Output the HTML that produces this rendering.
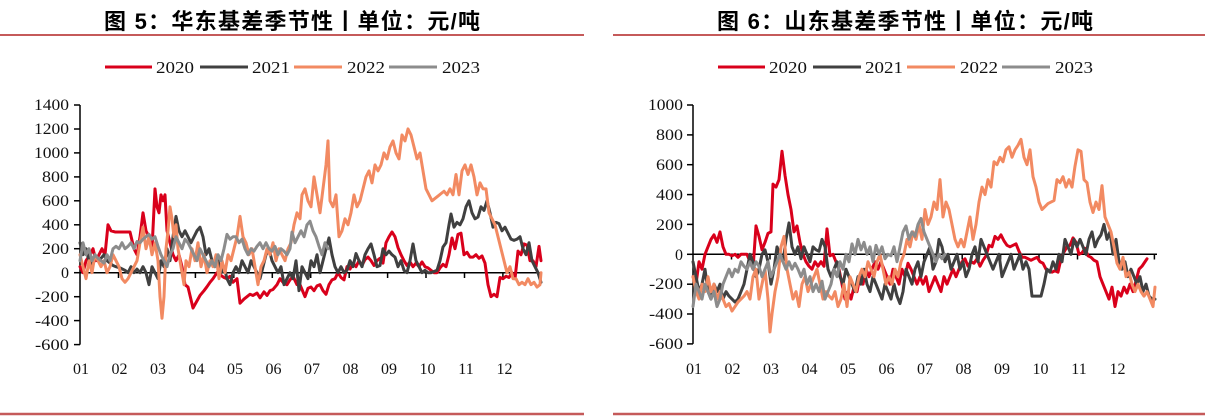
<!DOCTYPE html>
<html><head><meta charset="utf-8">
<style>
html,body{margin:0;padding:0;background:#fff;}
svg{display:block;}
.t{font-family:"Liberation Sans","Noto Sans CJK SC",sans-serif;font-weight:bold;font-size:22px;fill:#000;}
.lab{font-family:"Liberation Serif",serif;font-size:16px;fill:#111;}
.leg{font-family:"Liberation Serif",serif;font-size:17px;fill:#111;}
.s{fill:none;stroke-width:3;stroke-linejoin:round;stroke-linecap:round;vector-effect:non-scaling-stroke;}
.r{stroke:#d9001b}.k{stroke:#404040}.o{stroke:#f28a62}.g{stroke:#8c8c8c}
</style></head>
<body>
<svg width="1205" height="417" viewBox="0 0 1205 417" xmlns="http://www.w3.org/2000/svg">
<line x1="0" y1="35" x2="584" y2="35" stroke="#c55a5a" stroke-width="2"/>
<line x1="613" y1="35" x2="1205" y2="35" stroke="#c55a5a" stroke-width="2"/>
<line x1="0" y1="414" x2="584" y2="414" stroke="#c55a5a" stroke-width="2.5"/>
<line x1="613" y1="414" x2="1205" y2="414" stroke="#c55a5a" stroke-width="2.5"/>

<text class="t" x="104" y="29" textLength="376" lengthAdjust="spacing">图 5：华东基差季节性丨单位：元/吨</text>
<text class="t" x="717" y="29" textLength="376" lengthAdjust="spacing">图 6：山东基差季节性丨单位：元/吨</text>

<g>
<line x1="105" y1="67" x2="152" y2="67" stroke="#d9001b" stroke-width="3"/>
<text class="leg" x="156" y="73" textLength="38" lengthAdjust="spacingAndGlyphs">2020</text>
<line x1="200" y1="67" x2="248" y2="67" stroke="#404040" stroke-width="3"/>
<text class="leg" x="252" y="73" textLength="38" lengthAdjust="spacingAndGlyphs">2021</text>
<line x1="294" y1="67" x2="342" y2="67" stroke="#f28a62" stroke-width="3"/>
<text class="leg" x="347" y="73" textLength="38" lengthAdjust="spacingAndGlyphs">2022</text>
<line x1="389" y1="67" x2="437" y2="67" stroke="#8c8c8c" stroke-width="3"/>
<text class="leg" x="442" y="73" textLength="38" lengthAdjust="spacingAndGlyphs">2023</text>
</g>
<g transform="translate(613,0)">
<line x1="105" y1="67" x2="152" y2="67" stroke="#d9001b" stroke-width="3"/>
<text class="leg" x="156" y="73" textLength="38" lengthAdjust="spacingAndGlyphs">2020</text>
<line x1="200" y1="67" x2="248" y2="67" stroke="#404040" stroke-width="3"/>
<text class="leg" x="252" y="73" textLength="38" lengthAdjust="spacingAndGlyphs">2021</text>
<line x1="294" y1="67" x2="342" y2="67" stroke="#f28a62" stroke-width="3"/>
<text class="leg" x="347" y="73" textLength="38" lengthAdjust="spacingAndGlyphs">2022</text>
<line x1="389" y1="67" x2="437" y2="67" stroke="#8c8c8c" stroke-width="3"/>
<text class="leg" x="442" y="73" textLength="38" lengthAdjust="spacingAndGlyphs">2023</text>
</g>

<g stroke="#000" stroke-width="1.5">
<line x1="80" y1="105" x2="80" y2="344.6"/>
<line x1="80" y1="272.7" x2="541" y2="272.7"/>
<line x1="74" y1="105" x2="80" y2="105"/>
<line x1="74" y1="129" x2="80" y2="129"/>
<line x1="74" y1="152.9" x2="80" y2="152.9"/>
<line x1="74" y1="176.9" x2="80" y2="176.9"/>
<line x1="74" y1="200.8" x2="80" y2="200.8"/>
<line x1="74" y1="224.8" x2="80" y2="224.8"/>
<line x1="74" y1="248.7" x2="80" y2="248.7"/>
<line x1="74" y1="272.7" x2="80" y2="272.7"/>
<line x1="74" y1="296.7" x2="80" y2="296.7"/>
<line x1="74" y1="320.6" x2="80" y2="320.6"/>
<line x1="74" y1="344.6" x2="80" y2="344.6"/>
<line x1="118.5" y1="272.7" x2="118.5" y2="278"/>
<line x1="157" y1="272.7" x2="157" y2="278"/>
<line x1="195.4" y1="272.7" x2="195.4" y2="278"/>
<line x1="233.8" y1="272.7" x2="233.8" y2="278"/>
<line x1="272.3" y1="272.7" x2="272.3" y2="278"/>
<line x1="310.7" y1="272.7" x2="310.7" y2="278"/>
<line x1="349.2" y1="272.7" x2="349.2" y2="278"/>
<line x1="387.6" y1="272.7" x2="387.6" y2="278"/>
<line x1="426" y1="272.7" x2="426" y2="278"/>
<line x1="464.5" y1="272.7" x2="464.5" y2="278"/>
<line x1="502.9" y1="272.7" x2="502.9" y2="278"/>
<line x1="541" y1="272.7" x2="541" y2="278"/>
</g>
<g class="lab" text-anchor="end">
<text x="69" y="110" textLength="35" lengthAdjust="spacingAndGlyphs">1400</text>
<text x="69" y="134" textLength="35" lengthAdjust="spacingAndGlyphs">1200</text>
<text x="69" y="158" textLength="35" lengthAdjust="spacingAndGlyphs">1000</text>
<text x="69" y="182" textLength="27" lengthAdjust="spacingAndGlyphs">800</text>
<text x="69" y="206" textLength="27" lengthAdjust="spacingAndGlyphs">600</text>
<text x="69" y="230" textLength="27" lengthAdjust="spacingAndGlyphs">400</text>
<text x="69" y="254" textLength="27" lengthAdjust="spacingAndGlyphs">200</text>
<text x="69" y="278">0</text>
<text x="69" y="302" textLength="34" lengthAdjust="spacingAndGlyphs">-200</text>
<text x="69" y="326" textLength="34" lengthAdjust="spacingAndGlyphs">-400</text>
<text x="69" y="350" textLength="34" lengthAdjust="spacingAndGlyphs">-600</text>
</g>
<g class="lab" text-anchor="middle">
<text x="81" y="374">01</text><text x="119.5" y="374">02</text><text x="158" y="374">03</text>
<text x="196.5" y="374">04</text><text x="235" y="374">05</text><text x="273.5" y="374">06</text>
<text x="312" y="374">07</text><text x="350.5" y="374">08</text><text x="389" y="374">09</text>
<text x="427.5" y="374">10</text><text x="466" y="374">11</text><text x="504.5" y="374">12</text>
</g>

<g transform="translate(0,272.7) scale(1,-0.11979)">
<polyline class="s r" points="80,50 83,0 86,100 90,150 93,200 96,100 99,150 102,200 105,150 108,400 111,350 115,340 120,340 125,340 130,340 134,200 137,150 140,300 143,500 146,350 149,300 152,200 155,700 157,550 159,500 161,650 163,600 165,650 167,350 170,250 173,150 176,100 179,150 182,50 185,-100 188,-120 193,-295 196,-250 200,-190 204,-150 207,-117 210,-80 213,-50 217,0 220,-17 224,-40 227,-50 230,-30 233,-80 237,-50 240,-255 244,-220 247,-200 250,-180 253,-190 257,-170 260,-210 264,-160 267,-190 270,-150 273,-140 277,-100 280,-50 284,-90 287,-100 290,-60 293,-30 297,-100 300,-100 303,-160 305,-200 308,-130 311,-120 314,-150 317,-110 320,-100 323,-150 326,-180 329,-100 332,-60 335,-50 338,0 341,-40 344,-60 347,50 350,30 353,80 356,50 359,100 362,60 365,110 368,130 371,100 374,60 377,100 380,120 383,80 386,250 389,300 392,340 395,300 398,210 401,150 404,100 407,60 410,90 413,50 416,80 419,50 422,90 425,50 428,40 431,20 434,0 437,0 440,40 443,70 446,50 449,150 452,290 455,200 458,320 461,330 464,150 467,170 470,130 473,130 476,150 479,120 482,140 485,80 488,-100 491,-200 494,-180 497,-200 500,-40 503,-50 506,-30 509,-40 512,0 515,-50 518,180 521,150 524,240 527,230 530,100 533,100 536,50 539,220 541,100"/>
<polyline class="s k" points="80,250 83,150 86,200 89,100 92,50 95,150 98,100 101,120 104,150 107,100 110,80 113,60 116,50 120,40 125,20 128,0 131,50 134,0 137,30 140,0 143,50 146,0 149,-100 152,50 155,0 158,-50 161,100 164,50 167,200 170,100 173,300 176,470 179,350 182,300 185,350 188,300 191,250 194,300 197,350 200,380 203,300 206,150 209,200 212,100 215,50 218,100 221,0 224,50 227,-50 230,-100 233,0 236,50 239,0 242,100 245,50 248,0 251,100 254,50 257,0 260,-50 263,50 266,150 269,200 272,100 275,50 278,0 281,50 284,-100 287,-50 290,0 293,-50 296,100 299,-150 302,50 305,0 308,-50 311,100 314,50 317,150 320,0 323,100 326,200 329,290 332,150 335,50 338,0 341,50 344,0 347,20 350,100 353,50 356,160 359,100 362,50 365,150 368,200 371,240 374,150 377,50 380,60 383,200 386,150 389,180 392,150 395,130 398,50 401,100 404,20 407,0 410,100 413,240 416,100 419,50 422,0 425,20 428,0 431,0 434,10 437,20 440,100 443,215 446,250 449,400 451,490 454,380 457,420 460,400 463,450 466,550 469,600 472,500 475,450 478,465 481,550 484,520 487,600 490,500 493,380 496,420 499,410 502,350 505,380 508,330 511,280 514,270 517,280 520,300 523,200 526,150 529,250 532,100 535,50 538,0 541,-80"/>
<polyline class="s o" points="80,150 83,50 86,-50 89,100 92,0 95,150 98,100 101,50 104,100 107,0 110,50 113,150 116,100 119,50 122,-50 125,-80 128,-50 131,0 134,50 137,100 140,250 143,380 146,200 149,300 152,150 155,250 158,100 160,-200 162,-380 164,-200 166,200 168,350 170,550 172,450 174,300 176,400 178,200 180,100 182,0 184,-100 186,100 189,50 192,200 195,100 198,250 201,50 204,150 207,0 210,100 213,50 216,150 219,-50 222,100 225,0 228,150 231,100 234,200 237,300 240,470 243,300 246,250 249,150 252,200 255,50 258,-100 261,50 264,100 267,200 270,150 273,250 276,100 279,200 282,150 285,100 288,200 291,250 294,400 297,500 300,450 302,650 305,700 308,600 311,550 314,800 317,650 320,500 323,700 326,900 328,1100 330,600 333,550 336,650 339,300 342,350 345,450 348,400 351,500 354,650 357,550 360,600 363,700 366,800 369,850 372,750 375,900 378,850 381,900 384,1000 387,950 390,1050 393,1100 396,1000 399,950 402,1150 405,1100 408,1200 411,1150 414,1050 417,950 420,1000 423,850 426,700 429,650 432,600 435,620 438,640 441,660 444,680 447,650 450,700 453,650 456,820 459,650 462,850 465,900 468,820 471,900 474,800 477,650 480,750 483,700 486,700 489,500 492,450 495,400 498,300 501,200 504,100 507,0 510,50 513,-50 516,-50 519,-100 522,-80 525,-100 528,-50 531,-100 534,-80 537,-120 540,-100 541,0"/>
<polyline class="s g" points="80,100 83,250 86,150 89,200 92,100 95,150 98,120 101,100 104,80 107,150 110,100 113,200 116,220 119,200 122,250 125,200 128,220 131,250 134,200 137,260 140,250 143,280 146,300 149,320 152,280 155,300 158,220 161,150 164,100 167,50 170,150 173,200 176,300 179,250 182,200 185,280 188,250 191,200 194,150 197,100 200,200 203,150 206,100 209,50 212,100 215,50 218,150 221,100 224,200 227,320 230,280 233,300 236,300 239,250 242,280 245,200 248,150 251,200 254,180 257,220 260,250 263,200 266,250 269,200 272,180 275,220 278,150 281,200 284,180 287,150 290,200 292,340 295,250 298,300 301,350 304,300 307,400 310,430 313,350 316,300 319,220 322,150 325,250 328,200"/>
</g>

<g stroke="#000" stroke-width="1.5">
<line x1="693" y1="105" x2="693" y2="343.9"/>
<line x1="693" y1="254.3" x2="1157" y2="254.3"/>
<line x1="687" y1="105" x2="693" y2="105"/>
<line x1="687" y1="134.9" x2="693" y2="134.9"/>
<line x1="687" y1="164.7" x2="693" y2="164.7"/>
<line x1="687" y1="194.6" x2="693" y2="194.6"/>
<line x1="687" y1="224.4" x2="693" y2="224.4"/>
<line x1="687" y1="254.3" x2="693" y2="254.3"/>
<line x1="687" y1="284.2" x2="693" y2="284.2"/>
<line x1="687" y1="314" x2="693" y2="314"/>
<line x1="687" y1="343.9" x2="693" y2="343.9"/>
<line x1="731.5" y1="254.3" x2="731.5" y2="259.5"/>
<line x1="770" y1="254.3" x2="770" y2="259.5"/>
<line x1="808.4" y1="254.3" x2="808.4" y2="259.5"/>
<line x1="846.8" y1="254.3" x2="846.8" y2="259.5"/>
<line x1="885.3" y1="254.3" x2="885.3" y2="259.5"/>
<line x1="923.7" y1="254.3" x2="923.7" y2="259.5"/>
<line x1="962.2" y1="254.3" x2="962.2" y2="259.5"/>
<line x1="1000.6" y1="254.3" x2="1000.6" y2="259.5"/>
<line x1="1039" y1="254.3" x2="1039" y2="259.5"/>
<line x1="1077.5" y1="254.3" x2="1077.5" y2="259.5"/>
<line x1="1115.9" y1="254.3" x2="1115.9" y2="259.5"/>
<line x1="1154.4" y1="254.3" x2="1154.4" y2="259.5"/>
</g>
<g class="lab" text-anchor="end">
<text x="683" y="110" textLength="35" lengthAdjust="spacingAndGlyphs">1000</text>
<text x="683" y="140" textLength="27" lengthAdjust="spacingAndGlyphs">800</text>
<text x="683" y="170" textLength="27" lengthAdjust="spacingAndGlyphs">600</text>
<text x="683" y="200" textLength="27" lengthAdjust="spacingAndGlyphs">400</text>
<text x="683" y="230" textLength="27" lengthAdjust="spacingAndGlyphs">200</text>
<text x="683" y="260">0</text>
<text x="683" y="289" textLength="34" lengthAdjust="spacingAndGlyphs">-200</text>
<text x="683" y="319" textLength="34" lengthAdjust="spacingAndGlyphs">-400</text>
<text x="683" y="349" textLength="34" lengthAdjust="spacingAndGlyphs">-600</text>
</g>
<g class="lab" text-anchor="middle">
<text x="694" y="374">01</text><text x="732.5" y="374">02</text><text x="771" y="374">03</text>
<text x="809.5" y="374">04</text><text x="848" y="374">05</text><text x="886.5" y="374">06</text>
<text x="925" y="374">07</text><text x="963.5" y="374">08</text><text x="1002" y="374">09</text>
<text x="1040.5" y="374">10</text><text x="1079" y="374">11</text><text x="1117.5" y="374">12</text>
</g>

<g transform="translate(0,254.3) scale(1,-0.1493)">
<polyline class="s r" points="693,-150 696,-200 699,-50 702,-100 705,0 708,50 711,100 714,130 717,80 720,150 723,50 726,0 729,0 732,-10 735,0 738,-20 741,0 744,0 747,0 750,-50 753,-100 756,190 759,120 762,30 765,80 768,140 771,150 773,470 776,450 779,500 782,690 785,530 788,400 791,300 794,150 797,190 800,80 803,0 806,-50 809,-80 812,-100 815,-50 818,-80 821,-50 824,-80 827,170 830,-10 833,0 836,-50 839,-100 842,-200 845,-300 848,-250 851,-300 854,-220 857,-250 860,-150 863,-200 866,-100 869,-150 872,-100 875,-50 878,-100 881,-50 884,-100 887,-150 890,-200 893,-100 896,-150 899,-200 902,-100 905,-150 908,-60 911,-100 914,-150 917,-200 920,-150 923,-200 926,-150 929,-250 932,-200 935,-150 938,-200 941,-250 944,-150 947,-200 950,-150 953,-100 956,-150 959,-100 962,-50 965,-30 968,-80 971,-50 974,-60 977,-30 980,-80 983,-40 986,-10 989,60 992,50 995,120 998,100 1001,130 1004,90 1007,60 1010,50 1013,60 1016,70 1019,20 1022,-20 1025,-20 1028,-30 1031,-40 1034,-30 1037,-20 1040,-50 1043,-60 1046,-100 1049,-110 1052,-120 1055,-110 1058,-120 1061,-30 1064,15 1067,50 1070,60 1073,110 1076,80 1079,0 1082,10 1085,40 1088,-10 1091,-20 1094,-40 1097,-50 1100,-150 1103,-200 1106,-250 1109,-300 1112,-220 1115,-350 1118,-250 1121,-280 1124,-220 1127,-260 1130,-200 1133,-250 1136,-180 1139,-100 1142,-80 1145,-50 1147,-30"/>
<polyline class="s k" points="693,-50 696,-150 699,-250 702,-200 705,-100 708,-250 711,-300 714,-200 717,-250 720,-200 723,-300 726,-250 729,-280 732,-300 735,-320 738,-300 741,-250 744,-200 747,-100 750,0 753,-50 756,-150 759,-100 762,0 765,30 768,-50 771,-200 774,-100 777,50 780,0 783,-50 786,100 789,210 792,50 795,0 798,50 801,-30 804,50 807,0 810,-50 813,50 816,30 819,20 822,100 825,50 828,-100 831,-150 834,-100 837,-50 840,-150 843,-200 846,-100 849,-150 852,-200 855,-250 858,-150 861,-200 864,-100 867,-200 870,-250 873,-150 876,-200 879,-250 882,-300 885,-200 888,-250 891,-300 894,-200 897,-280 900,-330 903,-250 906,-100 909,-150 912,-200 915,-100 918,-50 921,-150 924,-50 927,0 930,50 933,-100 936,-50 939,100 942,50 945,-50 948,0 951,-100 954,-50 957,0 960,-100 963,-50 966,-150 969,-100 972,0 975,50 978,-50 981,100 984,50 987,0 990,-50 993,-100 996,-50 999,0 1002,-150 1005,-100 1008,-50 1011,0 1014,-100 1017,-50 1020,0 1023,-100 1026,-50 1029,-100 1032,-280 1035,-280 1038,-280 1041,-280 1044,-200 1047,-100 1050,-120 1053,-50 1056,-100 1059,0 1062,-50 1065,100 1068,50 1071,0 1074,100 1077,50 1080,100 1083,50 1086,0 1089,100 1092,150 1095,50 1098,100 1101,130 1104,200 1107,100 1110,150 1113,0 1116,100 1119,-50 1122,-100 1125,-50 1128,-150 1131,-100 1134,-150 1137,-200 1140,-150 1143,-250 1146,-200 1149,-280 1152,-300 1155,-300"/>
<polyline class="s o" points="693,-150 696,-250 699,-300 702,-200 705,-250 708,-150 711,-250 714,-200 717,-300 720,-250 723,-300 726,-350 729,-330 732,-380 735,-350 738,-320 741,-300 744,-280 747,-250 750,-300 753,-150 756,-100 759,-300 762,-200 765,-100 768,-300 770,-520 772,-400 775,-250 778,-150 781,50 784,120 787,-100 790,-200 793,-300 796,-250 799,-350 802,-200 805,-150 808,-250 811,-200 814,-150 817,-100 820,-200 823,-300 826,-250 829,-280 832,-300 835,-250 838,-350 841,-300 844,-200 847,-350 850,-150 853,-200 856,-250 859,-150 862,-100 865,-150 868,-50 871,-100 874,-150 877,-50 880,0 883,-100 886,-200 889,-150 892,-200 895,-100 898,-150 901,-50 904,0 907,100 910,50 913,150 916,100 919,200 922,100 925,300 928,200 931,250 934,350 937,300 940,500 943,250 946,350 949,300 952,200 955,100 958,50 961,100 964,50 967,150 970,250 973,100 976,200 979,350 982,450 985,400 988,500 991,450 994,620 997,600 1000,650 1003,620 1006,700 1009,720 1012,650 1015,700 1018,730 1021,770 1024,650 1027,600 1030,700 1033,520 1036,450 1039,350 1042,300 1045,320 1048,340 1051,350 1054,360 1057,500 1060,480 1063,520 1066,450 1069,500 1072,450 1075,590 1078,700 1081,690 1084,500 1087,480 1090,350 1093,280 1096,350 1099,300 1102,460 1105,250 1108,200 1111,150 1114,50 1117,-60 1120,-100 1123,-20 1126,-150 1129,-120 1132,-200 1135,-250 1138,-200 1141,-250 1144,-280 1147,-250 1150,-300 1153,-350 1155,-220"/>
<polyline class="s g" points="693,-350 696,-200 699,-250 702,-300 705,-200 708,-250 711,-300 714,-250 717,-350 720,-300 723,-200 726,-150 729,-100 732,-150 735,-100 738,-120 741,-50 744,-80 747,-100 750,-50 753,-100 756,-50 759,-80 762,-150 765,-100 768,-50 771,-150 774,-100 777,-50 780,0 783,-50 786,-100 789,-50 792,-100 795,-60 798,-100 801,-150 804,-100 807,-200 810,-150 813,-250 816,-200 819,-250 822,-180 825,-300 828,-250 831,-200 834,-100 837,-150 840,-50 843,-100 846,0 849,-50 852,70 855,0 858,100 861,30 864,80 867,0 870,50 873,-50 876,60 879,0 882,50 885,-30 888,0 891,-10 894,50 897,-50 900,50 903,150 906,190 909,100 912,150 915,120 918,200 921,240 924,150 927,100 930,50 933,0 936,-50 939,0 942,-30 945,0"/>
</g>
</svg>
</body></html>
